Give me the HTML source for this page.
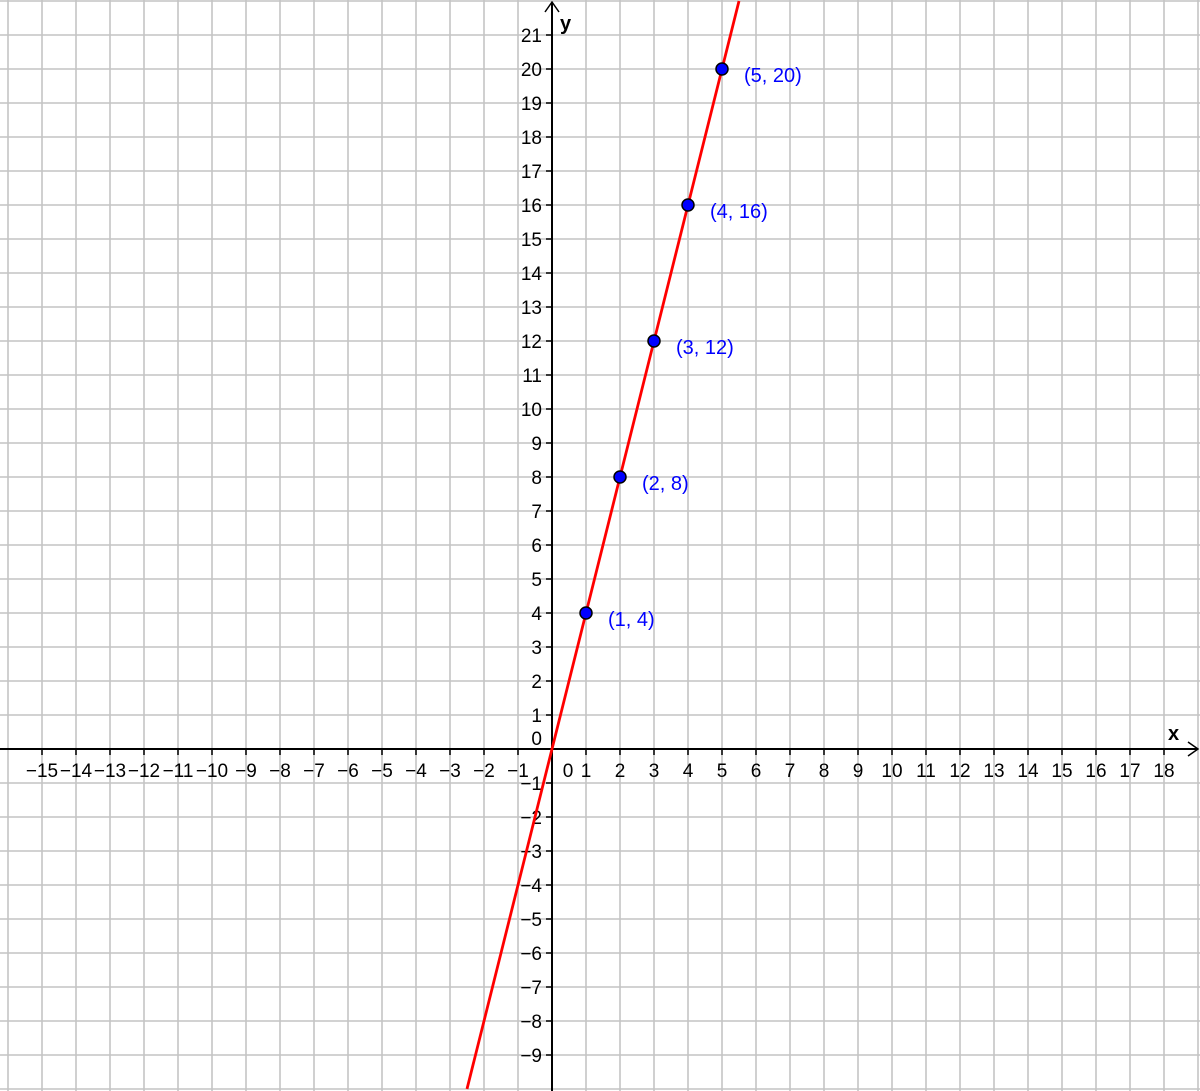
<!DOCTYPE html>
<html><head><meta charset="utf-8"><style>
html,body{margin:0;padding:0;background:#fff}
svg{display:block;font-family:"Liberation Sans",Arial,sans-serif}
</style></head><body>
<svg id="chart" width="1200" height="1091" viewBox="0 0 1200 1091" xmlns="http://www.w3.org/2000/svg"></svg>
<script>
const xMin = -16, xMax = 19, yMin = -10, yMax = 22;
const pointXs = [1, 2, 3, 4, 5];
const pointYs = [4, 8, 12, 16, 20];
const pointLabels = ["(1, 4)", "(2, 8)", "(3, 12)", "(4, 16)", "(5, 20)"];
const slope = 4;
const intercept = 0;

const ox = 552, oy = 749, unit = 34;
function sx(v){return ox + v*unit;}
function sy(v){return oy - v*unit;}
const svg = document.getElementById('chart');
const NS = 'http://www.w3.org/2000/svg';
function mk(tag, attrs, parent){
  const e = document.createElementNS(NS, tag);
  for (const k in attrs) e.setAttribute(k, attrs[k]);
  (parent||svg).appendChild(e);
  return e;
}
const grid = mk('g', {});


for (let i = xMin; i <= xMax; i++) {
  if (i === 0) continue;
  mk('line', {x1:sx(i), x2:sx(i), y1:0, y2:1091, stroke:'#c4c4c4', 'stroke-width':1.6}, grid);
}
for (let j = yMin; j <= yMax; j++) {
  if (j === 0) continue;
  mk('line', {x1:0, x2:1200, y1:sy(j), y2:sy(j), stroke:'#c4c4c4', 'stroke-width':1.6}, grid);
}
const axes = mk('g', {});


mk('line', {x1:0, x2:1198, y1:oy, y2:oy, stroke:'#000', 'stroke-width':2}, axes);
mk('polyline', {points:`${1188},${oy-7} ${1198},${oy} ${1188},${oy+7}`, fill:'none', stroke:'#000', 'stroke-width':1.5}, axes);
mk('line', {x1:ox, x2:ox, y1:2, y2:1091, stroke:'#000', 'stroke-width':2}, axes);
mk('polyline', {points:`${ox-7},${12} ${ox},${2} ${ox+7},${12}`, fill:'none', stroke:'#000', 'stroke-width':1.5}, axes);
const xl = mk('text', {x:1168, y:740, 'font-size':20, 'font-weight':'bold', fill:'#000'}, axes); xl.textContent='x';
 
const yl = mk('text', {x:560, y:30, 'font-size':20, 'font-weight':'bold', fill:'#000'}, axes); yl.textContent='y';
 
for (let i = -15; i <= 18; i++) {
  mk('line', {x1:sx(i), x2:sx(i), y1:oy, y2:oy+6, stroke:'#000', 'stroke-width':1.5}, axes);
  const t = mk('text', {x: i===0 ? sx(i)+16 : sx(i), y:777, 'font-size':19, 'text-anchor':'middle', fill:'#000'}, axes);
  t.textContent = (i<0 ? '\u2212'+(-i) : String(i));
  
  
}
for (let j = -9; j <= 21; j++) {
  if (j === 0) continue;
  mk('line', {x1:ox-6, x2:ox, y1:sy(j), y2:sy(j), stroke:'#000', 'stroke-width':1.5}, axes);
  const t = mk('text', {x:ox-10, y:sy(j)+7, 'font-size':19, 'text-anchor':'end', fill:'#000'}, axes);
  t.textContent = (j<0 ? '\u2212'+(-j) : String(j));
  
  
}
const z = mk('text', {x:ox-10, y:oy-4, 'font-size':19, 'text-anchor':'end', fill:'#000'}, axes); z.textContent='0';
 
const x0 = (yMin - intercept)/slope, x1 = (yMax - intercept)/slope;
const ln = mk('line', {x1:sx(x0), y1:sy(slope*x0+intercept), x2:sx(x1), y2:sy(slope*x1+intercept), stroke:'#ff0000', 'stroke-width':2.8});


for (let k = 0; k < pointXs.length; k++) {
  const c = mk('circle', {cx:sx(pointXs[k]), cy:sy(pointYs[k]), r:6, fill:'#0000ff', stroke:'#000', 'stroke-width':1.5});
  
  
  const t = mk('text', {x:sx(pointXs[k])+22, y:sy(pointYs[k])+13, 'font-size':20, fill:'#0000ff'});
  t.textContent = pointLabels[k];
  
  
}
</script>
</body></html>
